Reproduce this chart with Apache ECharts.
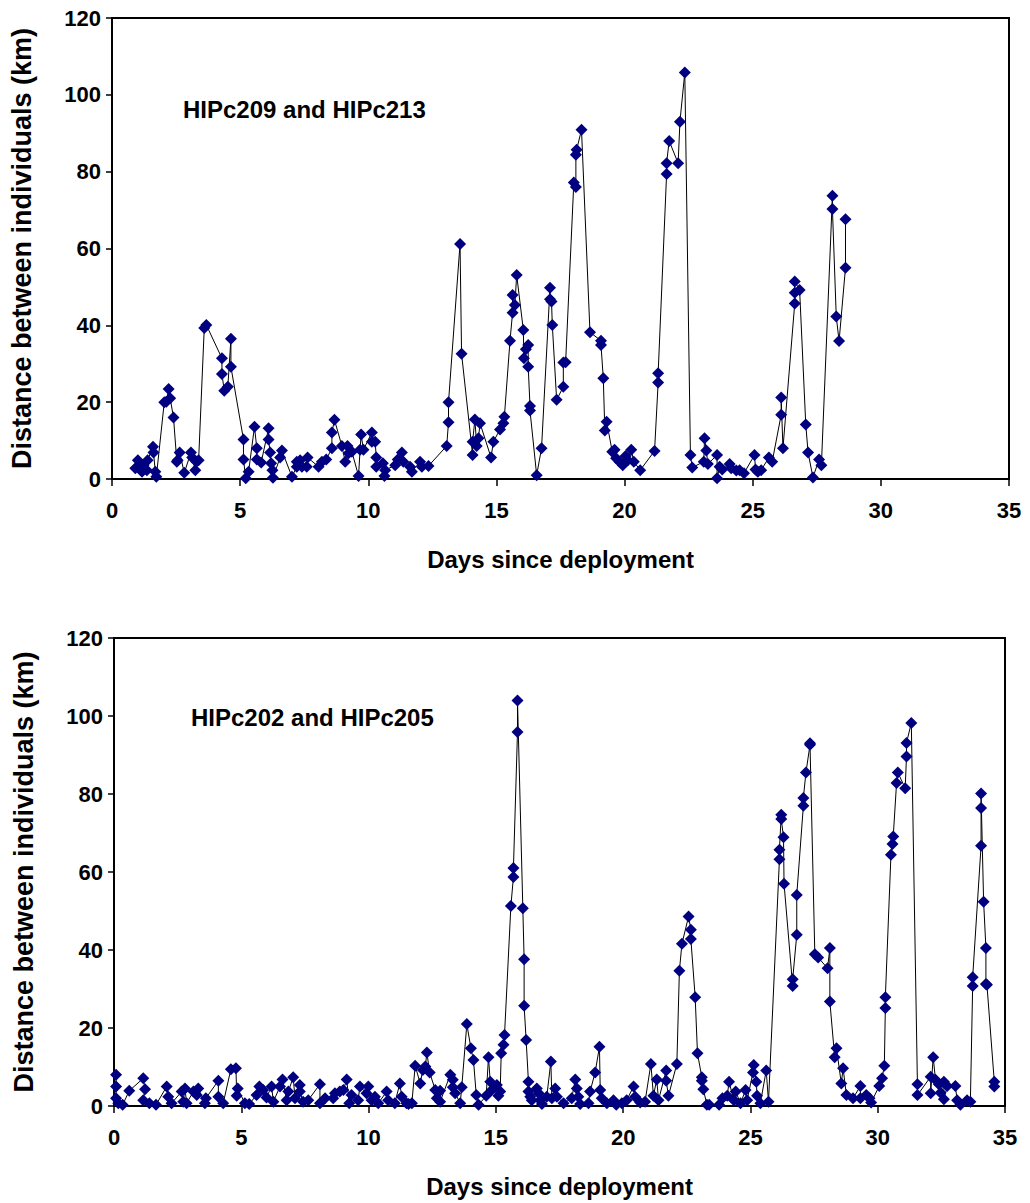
<!DOCTYPE html>
<html>
<head>
<meta charset="utf-8">
<script src="https://cdn.jsdelivr.net/npm/echarts@6/dist/echarts.min.js"></script>
<style>
  html, body { margin: 0; padding: 0; background: #fff; }
  #chart { width: 1030px; height: 1203px; }
</style>
</head>
<body>
<div id="chart"></div>
<script>
// upper panel: HIPc209 and HIPc213
var days1 = [0.91, 1.01, 1.17, 1.23, 1.36, 1.39, 1.60, 1.62, 1.69, 1.73, 2.04, 2.12, 2.21, 2.27, 2.40, 2.53, 2.56, 2.64, 2.82, 3.08,
  3.13, 3.25, 3.29, 3.38, 3.60, 3.68, 4.29, 4.29, 4.38, 4.52, 4.64, 4.64, 5.13, 5.13, 5.22, 5.33, 5.56, 5.65, 5.65, 5.82,
  6.11, 6.11, 6.17, 6.21, 6.26, 6.28, 6.56, 6.63, 7.02, 7.21, 7.21, 7.34, 7.41, 7.60, 7.63, 8.06, 8.19, 8.36, 8.58, 8.58,
  8.68, 8.97, 9.10, 9.19, 9.23, 9.36, 9.62, 9.68, 9.72, 9.81, 10.14, 10.14, 10.27, 10.31, 10.31, 10.57, 10.63, 10.66, 11.05, 11.15,
  11.31, 11.37, 11.63, 11.70, 12.02, 12.09, 12.35, 13.06, 13.13, 13.13, 13.58, 13.64, 14.07, 14.07, 14.16, 14.23, 14.30, 14.36, 14.79, 14.88,
  15.14, 15.27, 15.31, 15.53, 15.63, 15.63, 15.72, 15.79, 16.05, 16.07, 16.15, 16.24, 16.24, 16.31, 16.31, 16.57, 16.76, 17.09, 17.09, 17.15,
  17.18, 17.35, 17.61, 17.61, 17.70, 18.02, 18.10, 18.10, 18.13, 18.32, 18.65, 19.08, 19.08, 19.17, 19.23, 19.30, 19.52, 19.61, 19.67, 19.80,
  19.93, 20.04, 20.13, 20.26, 20.36, 20.61, 21.17, 21.31, 21.31, 21.64, 21.64, 21.74, 22.09, 22.16, 22.35, 22.57, 22.64, 23.09, 23.12, 23.19,
  23.25, 23.61, 23.61, 23.71, 23.81, 24.10, 24.16, 24.36, 24.49, 24.66, 25.07, 25.11, 25.20, 25.33, 25.63, 25.76, 26.11, 26.11, 26.18, 26.64,
  26.64, 26.64, 26.83, 27.07, 27.16, 27.35, 27.59, 27.68, 28.11, 28.11, 28.26, 28.37, 28.62, 28.62];
var dist1 = [2.8, 4.9, 1.9, 3.6, 2.3, 4.9, 8.4, 6.9, 1.9, 0.6, 20, 20.1, 23.4, 21, 16, 4.5, 4.9, 6.9, 1.6, 6.9,
  5.6, 2.3, 4.5, 4.9, 39.3, 40.1, 31.4, 27.3, 23, 24, 36.5, 29.2, 10.3, 5.1, 0.2, 1.9, 13.6, 8, 5.1, 4.3,
  13.2, 10.3, 6.9, 4.1, 2.3, 0.3, 5.6, 7.4, 0.6, 3.2, 4.5, 4.9, 3.2, 3.2, 5.6, 3.2, 4.5, 5.1, 8, 12.1,
  15.4, 8.6, 4.5, 8.6, 6.7, 7.1, 0.8, 7.6, 11.6, 7.6, 12.1, 9.7, 9.7, 5.6, 3.2, 4.1, 0.8, 2.3, 3.6, 5.1,
  6.9, 4.5, 3.2, 1.9, 4.5, 3.2, 3.4, 8.6, 14.8, 20, 61.2, 32.6, 6.25, 9.7, 15.5, 8.6, 10.6, 14.5, 5.6, 9.7,
  12.9, 14.5, 16.2, 36, 43.3, 47.9, 45.3, 53.1, 38.8, 31.4, 33.8, 34.9, 29.2, 19, 17.8, 1, 8, 49.8, 46.8, 46.2,
  40.1, 20.6, 24, 30.3, 30.4, 77.2, 76, 84.4, 85.7, 90.9, 38.2, 36, 34.9, 26.2, 12.6, 14.9, 7.1, 7.6, 5.4, 4.5,
  3.6, 6, 4.9, 7.6, 4.5, 2.3, 7.3, 25.1, 27.5, 79.4, 82.2, 88, 82.2, 93, 105.8, 6.25, 3, 4.5, 10.6, 7.4,
  3.9, 6.25, 0.2, 3.2, 2.5, 3.9, 2.8, 2.2, 2.3, 1.5, 6.25, 2.5, 1.9, 2.3, 5.6, 4.5, 16.7, 21.2, 8, 45.7,
  48.5, 51.4, 49.2, 14.2, 6.9, 0.4, 5.1, 3.6, 73.7, 70.3, 42.3, 35.9, 55, 67.6];

// lower panel: HIPc202 and HIPc205
var days2 = [0.08, 0.08, 0.08, 0.17, 0.34, 0.60, 1.15, 1.22, 1.15, 1.39, 1.65, 2.07, 2.13, 2.26, 2.66, 2.72, 2.79, 2.85, 3.12, 3.25,
  3.31, 3.57, 3.61, 4.10, 4.10, 4.29, 4.59, 4.79, 4.82, 4.86, 5.14, 5.31, 5.60, 5.71, 5.86, 5.99, 6.19, 6.26, 6.52, 6.62,
  6.78, 6.85, 7.04, 7.11, 7.30, 7.30, 7.43, 7.63, 8.09, 8.09, 8.29, 8.61, 8.68, 8.87, 9.01, 9.14, 9.24, 9.33, 9.59, 9.66,
  9.92, 9.99, 10.12, 10.25, 10.38, 10.71, 10.77, 11.03, 11.23, 11.30, 11.49, 11.57, 11.70, 11.83, 12.03, 12.13, 12.23, 12.29, 12.40, 12.62,
  12.68, 12.81, 12.81, 13.21, 13.31, 13.31, 13.40, 13.60, 13.66, 13.86, 14.02, 14.12, 14.23, 14.32, 14.62, 14.71, 14.78, 14.84, 15.04, 15.10,
  15.17, 15.21, 15.30, 15.34, 15.59, 15.69, 15.69, 15.85, 15.85, 16.06, 16.11, 16.11, 16.19, 16.28, 16.28, 16.35, 16.41, 16.61, 16.68, 16.74,
  16.81, 17.00, 17.16, 17.20, 17.33, 17.40, 17.66, 17.98, 18.12, 18.18, 18.24, 18.31, 18.64, 18.70, 18.90, 19.07, 19.10, 19.16, 19.36, 19.62,
  19.73, 19.95, 20.14, 20.41, 20.47, 20.67, 20.86, 21.09, 21.19, 21.32, 21.39, 21.69, 21.69, 21.78, 22.11, 22.21, 22.31, 22.57, 22.66, 22.66,
  22.83, 22.92, 23.09, 23.09, 23.15, 23.29, 23.38, 23.77, 23.90, 24.09, 24.16, 24.35, 24.42, 24.61, 24.81, 24.87, 25.10, 25.13, 25.23, 25.26,
  25.39, 25.62, 25.71, 26.14, 26.14, 26.21, 26.21, 26.30, 26.32, 26.66, 26.66, 26.82, 26.82, 27.08, 27.08, 27.18, 27.34, 27.34, 27.53, 27.66,
  28.03, 28.12, 28.12, 28.31, 28.38, 28.57, 28.64, 28.77, 29.03, 29.32, 29.32, 29.55, 29.68, 29.74, 30.06, 30.17, 30.26, 30.30, 30.30, 30.52,
  30.58, 30.61, 30.74, 30.79, 31.08, 31.13, 31.13, 31.32, 31.56, 31.56, 32.08, 32.08, 32.18, 32.27, 32.40, 32.47, 32.60, 32.60, 32.73, 33.05,
  33.12, 33.25, 33.51, 33.64, 33.73, 33.73, 34.06, 34.06, 34.06, 34.16, 34.25, 34.25, 34.29, 34.58, 34.58];
var dist2 = [8, 5, 2, 0.7, 0.3, 3.9, 7.1, 4.3, 1.5, 0.7, 0.3, 5, 2.4, 0.7, 3.7, 1.1, 4.5, 0.7, 3.7, 2.8,
  4.5, 0.7, 2, 6.5, 2.4, 0.7, 9.4, 9.7, 2.6, 4.5, 0.7, 0.5, 2.8, 5, 4.1, 2.2, 5, 1.1, 5, 6.8,
  1.5, 3.7, 7.4, 2, 5.4, 3.7, 1.1, 1.5, 5.6, 0.7, 2, 2, 3.3, 3.7, 4.1, 6.8, 0.7, 2.8, 1.5, 5,
  3.3, 5, 1.5, 2.4, 0.7, 3.7, 1.5, 0.7, 5.8, 2.4, 0.7, 0.5, 0.7, 10.3, 5.8, 9.2, 10.1, 13.7, 8.6, 4.1,
  2, 3.9, 1.1, 8, 6.7, 4.8, 3.3, 0.7, 4.8, 21, 14.8, 11.8, 2.8, 0.3, 2.6, 12.5, 6.2, 4.1, 5.4, 2.6,
  3.7, 13.5, 15.7, 18.2, 51.3, 58.7, 61, 95.9, 104, 50.7, 37.6, 25.7, 16.9, 6.2, 3.7, 2.4, 1.5, 4.5, 3.3, 1.5,
  0.5, 2.4, 11.4, 2, 4.5, 2.4, 0.7, 2, 6.8, 4.5, 2.4, 0.5, 0.7, 3.7, 8.6, 15.2, 4.1, 2, 0.7, 1.5,
  0.3, 0.7, 1.5, 5, 2.4, 0.9, 1.1, 10.8, 2.6, 6.8, 1.5, 9.1, 6.5, 2.6, 10.8, 34.7, 41.6, 48.6, 45.2, 42.8,
  27.9, 13.5, 7.4, 6.5, 4.3, 0.3, 0.3, 0.3, 2, 2.6, 6.2, 1.5, 3.7, 0.7, 4.1, 1.5, 8.6, 10.5, 6.2, 2.6,
  0.7, 9.1, 1.1, 63.3, 65.7, 74.7, 73.6, 68.9, 57, 30.8, 32.5, 43.9, 54.1, 77, 79, 85.5, 92.6, 93, 38.9, 38.1,
  35.3, 40.5, 26.8, 12.5, 14.8, 5.8, 9.7, 2.8, 2, 5.1, 2, 2.8, 2, 0.9, 5.1, 7.1, 10.3, 25.1, 27.9, 64.4,
  67.2, 69.1, 82.8, 85.5, 81.5, 89.6, 93.1, 98.2, 5.6, 2.8, 7.5, 3.3, 12.5, 6.7, 5.6, 3.4, 6.2, 1.7, 5.1, 5.1,
  1.5, 0.3, 1.5, 1.1, 30.8, 33, 66.7, 76.4, 80.1, 52.4, 40.5, 31.3, 31.1, 6.2, 5];

var pairNames = ['HIPc209 and HIPc213', 'HIPc202 and HIPc205'];
var xTitle = 'Days since deployment';
var yTitle = 'Distance between individuals (km)';

function zip(xs, ys) {
  var out = [];
  for (var i = 0; i < xs.length; i++) out.push([xs[i], ys[i]]);
  return out;
}

var fontName = '"Liberation Sans", Arial, sans-serif';

function makeX(idx) {
  return {
    type: 'value', gridIndex: idx, min: 0, max: 35, interval: 5,
    name: xTitle, nameLocation: 'middle', nameGap: 68,
    nameTextStyle: { fontFamily: fontName, fontWeight: 'bold', fontSize: 24, color: '#000' },
    axisLine: { lineStyle: { color: '#000', width: 2 } },
    axisTick: { length: 7, lineStyle: { color: '#000', width: 1.5 } },
    axisLabel: { margin: 20, fontFamily: fontName, fontWeight: 'bold', fontSize: 22, color: '#000' },
    splitLine: { show: false }
  };
}

function makeY(idx) {
  return {
    type: 'value', gridIndex: idx, min: 0, max: 120, interval: 20,
    name: yTitle, nameLocation: 'middle', nameGap: 77,
    nameTextStyle: { fontFamily: fontName, fontWeight: 'bold', fontSize: 27, color: '#000' },
    axisLine: { lineStyle: { color: '#000', width: 2 } },
    axisTick: { length: 6, lineStyle: { color: '#000', width: 1.5 } },
    axisLabel: { margin: 11, fontFamily: fontName, fontWeight: 'bold', fontSize: 22, color: '#000' },
    splitLine: { show: false }
  };
}

function makeSeries(idx, data) {
  return {
    type: 'line', xAxisIndex: idx, yAxisIndex: idx, data: data,
    symbol: 'diamond', symbolSize: 12, showAllSymbol: true,
    lineStyle: { color: '#000', width: 1 },
    itemStyle: { color: '#000080' },
    z: 3
  };
}

var chart = echarts.init(document.getElementById('chart'), null, { renderer: 'svg' });
chart.setOption({
  animation: false,
  backgroundColor: '#fff',
  grid: [
    { left: 112, top: 18, width: 897, height: 461, show: true, borderColor: '#000', borderWidth: 2, containLabel: false },
    { left: 114, top: 638, width: 891, height: 468, show: true, borderColor: '#000', borderWidth: 2, containLabel: false }
  ],
  xAxis: [makeX(0), makeX(1)],
  yAxis: [makeY(0), makeY(1)],
  series: [makeSeries(0, zip(days1, dist1)), makeSeries(1, zip(days2, dist2))],
  graphic: [
    { type: 'text', left: 183, top: 97, style: { text: pairNames[0], font: 'bold 24px ' + fontName, fill: '#000' } },
    { type: 'text', left: 191, top: 705, style: { text: pairNames[1], font: 'bold 24px ' + fontName, fill: '#000' } }
  ]
});
</script>
</body>
</html>
